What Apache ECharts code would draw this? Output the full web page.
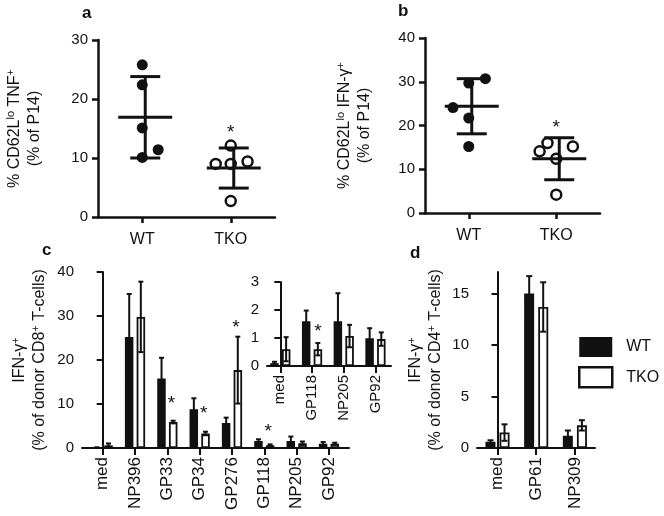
<!DOCTYPE html>
<html><head><meta charset="utf-8">
<script src="https://cdn.jsdelivr.net/npm/echarts@6/dist/echarts.min.js"></script>
<style>html,body{margin:0;padding:0;background:#fff}#c{width:664px;height:516px}</style>
</head><body><div id="c"></div>
<script>
// ---------- data ----------
const groups = ['WT', 'TKO'];
// panel a: % CD62Llo TNF+
const aWT = [25.8, 22.4, 15.1, 10.1, 11.4];
const aWTJit = [0, 0, 0, 0, 0.18];
const aTKO = [12.1, 9.0, 9.0, 9.4, 2.7];
const aTKOJit = [0, -0.17, 0, 0.19, 0];
const aMean = [16.9, 8.3];
const aSD = [6.9, 3.4];
const aStar = [15.0];
// panel b: % CD62Llo IFN-g+
const bWT = [30.7, 29.7, 24.1, 21.7, 15.2];
const bWTJit = [0.19, 0, -0.18, 0, 0];
const bTKO = [16.0, 14.1, 15.2, 12.4, 4.2];
const bTKOJit = [-0.1, -0.19, 0.19, 0, 0];
const bMean = [24.4, 12.4];
const bSD = [6.3, 4.8];
const bStar = [20.4];
// panel c: IFN-g+ of donor CD8+ T-cells
const cCats = ['med', 'NP396', 'GP33', 'GP34', 'GP276', 'GP118', 'NP205', 'GP92'];
const cWT = [0.1, 25.2, 15.8, 8.8, 5.7, 1.6, 1.6, 0.99];
const cWTsd = [0.05, 9.8, 4.7, 2.5, 1.2, 0.38, 1.0, 0.36];
const cTKO = [0.6, 29.8, 5.9, 3.3, 17.7, 0.6, 1.07, 0.96];
const cTKOsd = [0.43, 8.0, 0.3, 0.4, 7.6, 0.22, 0.4, 0.24];
const cStarCat = [2, 3, 4, 5];
const cStarVal = [10.9, 8.7, 28.2, 4.5];
// panel c inset
const iCats = ['med', 'GP118', 'NP205', 'GP92'];
const iWT = [0.1, 1.6, 1.6, 0.99];
const iWTsd = [0.05, 0.38, 1.0, 0.36];
const iTKO = [0.6, 0.6, 1.07, 0.96];
const iTKOsd = [0.43, 0.22, 0.4, 0.24];
const iStarCat = [1];
const iStarVal = [1.37];
// panel d: IFN-g+ of donor CD4+ T-cells
const dCats = ['med', 'GP61', 'NP309'];
const dWT = [0.6, 15.0, 1.2];
const dWTsd = [0.15, 1.7, 0.5];
const dTKO = [1.5, 13.7, 2.2];
const dTKOsd = [0.8, 2.4, 0.5];
// tick values
const aTicks = [0, 10, 20, 30];
const bTicks = [0, 10, 20, 30, 40];
const cTicks = [0, 10, 20, 30, 40];
const iTicks = [0, 1, 2, 3];
const dTicks = [0, 5, 10, 15];

// ---------- styling ----------
const FONT = 'Liberation Sans';
const INK = '#111';
const chart = echarts.init(document.getElementById('c'), null, {renderer: 'canvas'});

const rich = {
  n: {fontSize: 16, lineHeight: 20, fontFamily: FONT, color: INK},
  s: {fontSize: 11, lineHeight: 9, verticalAlign: 'top', fontFamily: FONT, color: INK}
};

function yAxis(gi, max, ticks, name, gap, lw) {
  return {
    type: 'value', gridIndex: gi, min: 0, max: max,
    axisLine: {show: true, lineStyle: {color: INK, width: lw}},
    axisTick: {show: true, length: 6, lineStyle: {color: INK, width: lw}, customValues: ticks},
    axisLabel: {fontSize: 15, fontFamily: FONT, color: INK, margin: lw > 2 ? 10 : 8, customValues: ticks},
    splitLine: {show: false},
    name: name, nameLocation: 'middle', nameRotate: 90, nameGap: gap,
    nameTextStyle: {rich: rich, align: 'center'}
  };
}
function catValueX(gi, min, max, cats, fs) {
  const idx = cats.map((c, i) => i);
  return {
    type: 'value', gridIndex: gi, min: min, max: max,
    axisLine: {show: true, onZero: false, lineStyle: {color: INK, width: 2}},
    axisTick: {show: true, length: 7, lineStyle: {color: INK, width: 2}, customValues: idx},
    axisLabel: {fontSize: fs, fontFamily: FONT, color: INK, rotate: 90, margin: 9,
      customValues: idx, formatter: v => cats[Math.round(v)] || ''},
    splitLine: {show: false}
  };
}

function errSeries(xi, yi, means, sds, dx, cap, lw) {
  return {
    type: 'custom', xAxisIndex: xi, yAxisIndex: yi, z: 5, silent: true,
    data: means.map((m, i) => [i, m, sds[i]]),
    renderItem: (p, api) => {
      const x = api.value(0), m = api.value(1), s = api.value(2);
      const t = api.coord([x, m + s]);
      const b = api.coord([x, Math.max(0, m - s)]);
      const px = t[0] + dx;
      const st = {stroke: INK, lineWidth: lw};
      return {type: 'group', children: [
        {type: 'line', shape: {x1: px, y1: t[1], x2: px, y2: b[1]}, style: st},
        {type: 'line', shape: {x1: px - cap, y1: t[1], x2: px + cap, y2: t[1]}, style: st},
        {type: 'line', shape: {x1: px - cap, y1: b[1], x2: px + cap, y2: b[1]}, style: st}
      ]};
    }
  };
}
function meanSeries(xi, yi, means, sds) {
  return {
    type: 'custom', xAxisIndex: xi, yAxisIndex: yi, z: 6, silent: true,
    data: means.map((m, i) => [0.5 + i, m, sds[i]]),
    renderItem: (p, api) => {
      const x = api.value(0), m = api.value(1), s = api.value(2);
      const c = api.coord([x, m]), t = api.coord([x, m + s]), b = api.coord([x, m - s]);
      const px = c[0] + 3;
      const st = {stroke: INK, lineWidth: 3};
      return {type: 'group', children: [
        {type: 'line', shape: {x1: px, y1: t[1], x2: px, y2: b[1]}, style: st},
        {type: 'line', shape: {x1: px - 27, y1: c[1], x2: px + 27, y2: c[1]}, style: st},
        {type: 'line', shape: {x1: px - 15, y1: t[1], x2: px + 15, y2: t[1]}, style: st},
        {type: 'line', shape: {x1: px - 15, y1: b[1], x2: px + 15, y2: b[1]}, style: st}
      ]};
    }
  };
}
function starSeries(xi, yi, xs, vals, dx) {
  return {
    type: 'custom', xAxisIndex: xi, yAxisIndex: yi, z: 7, silent: true,
    data: xs.map((x, i) => [x, vals[i]]),
    renderItem: (p, api) => {
      const c = api.coord([api.value(0), api.value(1)]);
      return {type: 'text', x: c[0] + dx, y: c[1] + 4,
        style: {text: '*', fontSize: 19, fontFamily: FONT, fill: INK, align: 'center', verticalAlign: 'middle'}};
    }
  };
}
function pointSeries(xi, yi, vals, jit, gIdx, open) {
  return {
    type: 'scatter', xAxisIndex: xi, yAxisIndex: yi, z: 4, silent: true,
    data: vals.map((v, i) => [0.5 + gIdx + jit[i], v]),
    symbol: 'circle', symbolSize: open ? 10 : 11,
    itemStyle: open ? {color: '#fff', borderColor: INK, borderWidth: 2.5, opacity: 1}
                    : {color: INK, opacity: 1}
  };
}
function barSeries(name, xi, yi, vals, bw, gap) {
  const white = name === 'TKO';
  return {
    type: 'bar', name: name, xAxisIndex: xi, yAxisIndex: yi, z: 3, silent: true,
    data: vals.map((v, i) => [i, v]), barWidth: bw, barGap: gap,
    itemStyle: {color: white ? '#fff' : INK, borderColor: INK, borderWidth: 1.8}
  };
}
function abCatX(gi) {
  return {
    type: 'category', gridIndex: gi, data: groups, boundaryGap: true,
    axisLine: {show: true, lineStyle: {color: INK, width: 2.5}},
    axisTick: {show: true, alignWithLabel: true, length: 6, lineStyle: {color: INK, width: 2.5}},
    axisLabel: {fontSize: 16, fontFamily: FONT, color: INK, margin: 15},
    splitLine: {show: false}
  };
}
function hiddenX(gi) {
  return {type: 'value', gridIndex: gi, min: 0, max: 2, show: false};
}

const option = {
  animation: false,
  backgroundColor: '#fff',
  textStyle: {fontFamily: FONT, color: INK},
  grid: [
    {left: 98, top: 40, width: 177, height: 177},
    {left: 425, top: 38, width: 175, height: 175},
    {left: 82, top: 272, width: 267, height: 176},
    {left: 267, top: 282, width: 124, height: 84},
    {left: 477, top: 272, width: 118, height: 176}
  ],
  xAxis: [
    abCatX(0), hiddenX(0),
    abCatX(1), hiddenX(1),
    catValueX(2, -0.64, 7.62, cCats, 17),
    catValueX(3, -0.42, 3.49, iCats, 15),
    catValueX(4, -0.53, 2.52, dCats, 17)
  ],
  yAxis: [
    yAxis(0, 30, aTicks, '{n|% CD62L}{s|lo}{n| TNF}{s|+}\n{n|(% of P14)}', 53, 2.5),
    yAxis(1, 40, bTicks, '{n|% CD62L}{s|lo}{n| IFN-γ}{s|+}\n{n|(% of P14)}', 50, 2.5),
    yAxis(2, 40, cTicks, '{n|IFN-γ}{s|+}\n{n|(% of donor CD8}{s|+}{n| T-cells)}', 32, 2),
    yAxis(3, 3, iTicks, '', 0, 2),
    yAxis(4, 17.1, dTicks, '{n|IFN-γ}{s|+}\n{n|(% of donor CD4}{s|+}{n| T-cells)}', 31, 2)
  ],
  legend: {
    left: 578, top: 337, orient: 'vertical', icon: 'rect', padding: 0,
    itemWidth: 33, itemHeight: 20, itemGap: 9, selectedMode: false,
    textStyle: {fontSize: 16, fontFamily: FONT, color: INK, padding: [0, 0, 0, 9]},
    data: [
      {name: 'WT', itemStyle: {color: INK, borderColor: INK, borderWidth: 0}},
      {name: 'TKO', itemStyle: {color: '#fff', borderColor: INK, borderWidth: 2.5}}
    ]
  },
  graphic: [
    {type: 'text', left: 82, top: 5, style: {text: 'a', font: 'bold 17px "Liberation Sans"', fill: INK}},
    {type: 'text', left: 398, top: 3, style: {text: 'b', font: 'bold 17px "Liberation Sans"', fill: INK}},
    {type: 'text', left: 42, top: 242, style: {text: 'c', font: 'bold 17px "Liberation Sans"', fill: INK}},
    {type: 'text', left: 410, top: 245, style: {text: 'd', font: 'bold 17px "Liberation Sans"', fill: INK}}
  ],
  series: [
    // a
    pointSeries(1, 0, aWT, aWTJit, 0, false),
    pointSeries(1, 0, aTKO, aTKOJit, 1, true),
    meanSeries(1, 0, aMean, aSD),
    starSeries(1, 0, [1.5], aStar, 0),
    // b
    pointSeries(3, 1, bWT, bWTJit, 0, false),
    pointSeries(3, 1, bTKO, bTKOJit, 1, true),
    meanSeries(3, 1, bMean, bSD),
    starSeries(3, 1, [1.5], bStar, 0),
    // c main
    barSeries('WT', 4, 2, cWT, 8.5, '38%'),
    barSeries('TKO', 4, 2, cTKO, 8.5, '38%'),
    errSeries(4, 2, cWT, cWTsd, -5.8, 2.5, 2),
    errSeries(4, 2, cTKO, cTKOsd, 5.8, 2.5, 2),
    starSeries(4, 2, cStarCat, cStarVal, 4),
    // inset
    barSeries('WT', 5, 3, iWT, 8.5, '38%'),
    barSeries('TKO', 5, 3, iTKO, 8.5, '38%'),
    errSeries(5, 3, iWT, iWTsd, -5.8, 2.5, 2),
    errSeries(5, 3, iTKO, iTKOsd, 5.8, 2.5, 2),
    starSeries(5, 3, iStarCat, iStarVal, 6),
    // d
    barSeries('WT', 6, 4, dWT, 10, '41%'),
    barSeries('TKO', 6, 4, dTKO, 10, '41%'),
    errSeries(6, 4, dWT, dWTsd, -7, 3, 2),
    errSeries(6, 4, dTKO, dTKOsd, 7, 3, 2)
  ]
};
chart.setOption(option);
</script>
</body></html>
